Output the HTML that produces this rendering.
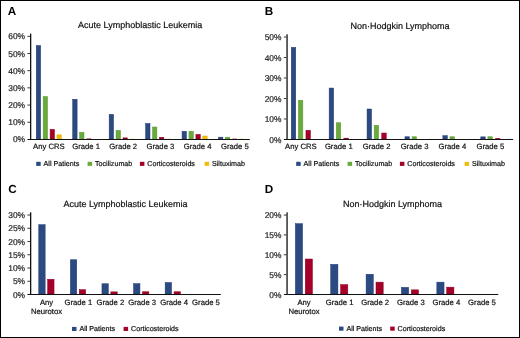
<!DOCTYPE html>
<html><head><meta charset="utf-8"><style>
html,body{margin:0;padding:0;background:#fff;}
body{width:520px;height:338px;overflow:hidden;}
svg{display:block;will-change:transform;text-rendering:geometricPrecision;font-family:"Liberation Sans",sans-serif;}
</style></head><body>
<svg width="520" height="338" viewBox="0 0 520 338" font-family="'Liberation Sans', sans-serif">
<rect x="0" y="0" width="520" height="338" fill="#fff"/>
<rect x="36.25" y="45.50" width="4.40" height="93.50" fill="#2C4A82" stroke="#1E3A72" stroke-width="0.5"/>
<rect x="43.15" y="96.55" width="4.40" height="42.45" fill="#69AA3D" stroke="#5A9830" stroke-width="0.5"/>
<rect x="50.10" y="129.35" width="4.40" height="9.65" fill="#A5002A" stroke="#8E0020" stroke-width="0.5"/>
<rect x="56.95" y="134.85" width="4.40" height="4.15" fill="#EFBD10" stroke="#D9A800" stroke-width="0.5"/>
<rect x="72.70" y="99.25" width="4.40" height="39.75" fill="#2C4A82" stroke="#1E3A72" stroke-width="0.5"/>
<rect x="79.60" y="132.25" width="4.40" height="6.75" fill="#69AA3D" stroke="#5A9830" stroke-width="0.5"/>
<rect x="86.30" y="138.50" width="4.90" height="0.50" fill="#A5002A"/>
<rect x="109.15" y="114.35" width="4.40" height="24.65" fill="#2C4A82" stroke="#1E3A72" stroke-width="0.5"/>
<rect x="116.05" y="130.35" width="4.40" height="8.65" fill="#69AA3D" stroke="#5A9830" stroke-width="0.5"/>
<rect x="123.00" y="137.85" width="4.40" height="1.15" fill="#A5002A" stroke="#8E0020" stroke-width="0.5"/>
<rect x="129.60" y="138.80" width="4.90" height="0.20" fill="#EFBD10"/>
<rect x="145.60" y="123.50" width="4.40" height="15.50" fill="#2C4A82" stroke="#1E3A72" stroke-width="0.5"/>
<rect x="152.50" y="127.00" width="4.40" height="12.00" fill="#69AA3D" stroke="#5A9830" stroke-width="0.5"/>
<rect x="159.45" y="137.25" width="4.40" height="1.75" fill="#A5002A" stroke="#8E0020" stroke-width="0.5"/>
<rect x="166.05" y="138.80" width="4.90" height="0.20" fill="#EFBD10"/>
<rect x="182.05" y="131.25" width="4.40" height="7.75" fill="#2C4A82" stroke="#1E3A72" stroke-width="0.5"/>
<rect x="188.95" y="131.25" width="4.40" height="7.75" fill="#69AA3D" stroke="#5A9830" stroke-width="0.5"/>
<rect x="195.90" y="134.35" width="4.40" height="4.65" fill="#A5002A" stroke="#8E0020" stroke-width="0.5"/>
<rect x="202.75" y="136.00" width="4.40" height="3.00" fill="#EFBD10" stroke="#D9A800" stroke-width="0.5"/>
<rect x="218.50" y="137.15" width="4.40" height="1.85" fill="#2C4A82" stroke="#1E3A72" stroke-width="0.5"/>
<rect x="225.40" y="137.15" width="4.40" height="1.85" fill="#69AA3D" stroke="#5A9830" stroke-width="0.5"/>
<rect x="232.10" y="138.70" width="4.90" height="0.30" fill="#A5002A"/>
<rect x="238.95" y="138.80" width="4.90" height="0.20" fill="#EFBD10"/>
<text x="25.00" y="142.40" font-size="8.4" text-anchor="end" font-weight="normal" fill="#222" stroke="#222" stroke-width="0.2">0%</text>
<rect x="27.40" y="121.77" width="2.60" height="0.90" fill="#222"/>
<text x="25.00" y="125.22" font-size="8.4" text-anchor="end" font-weight="normal" fill="#222" stroke="#222" stroke-width="0.2">10%</text>
<rect x="27.40" y="104.59" width="2.60" height="0.90" fill="#222"/>
<text x="25.00" y="108.04" font-size="8.4" text-anchor="end" font-weight="normal" fill="#222" stroke="#222" stroke-width="0.2">20%</text>
<rect x="27.40" y="87.41" width="2.60" height="0.90" fill="#222"/>
<text x="25.00" y="90.86" font-size="8.4" text-anchor="end" font-weight="normal" fill="#222" stroke="#222" stroke-width="0.2">30%</text>
<rect x="27.40" y="70.23" width="2.60" height="0.90" fill="#222"/>
<text x="25.00" y="73.68" font-size="8.4" text-anchor="end" font-weight="normal" fill="#222" stroke="#222" stroke-width="0.2">40%</text>
<rect x="27.40" y="53.05" width="2.60" height="0.90" fill="#222"/>
<text x="25.00" y="56.50" font-size="8.4" text-anchor="end" font-weight="normal" fill="#222" stroke="#222" stroke-width="0.2">50%</text>
<rect x="27.40" y="35.87" width="2.60" height="0.90" fill="#222"/>
<text x="25.00" y="39.32" font-size="8.4" text-anchor="end" font-weight="normal" fill="#222" stroke="#222" stroke-width="0.2">60%</text>
<rect x="30.00" y="33.62" width="1.30" height="106.38" fill="#111"/>
<rect x="27.50" y="139.00" width="222.30" height="1.00" fill="#111"/>
<text x="48.90" y="148.70" font-size="7.7" text-anchor="middle" font-weight="normal" fill="#111" stroke="#111" stroke-width="0.2">Any CRS</text>
<text x="86.08" y="148.70" font-size="7.7" text-anchor="middle" font-weight="normal" fill="#111" stroke="#111" stroke-width="0.2">Grade 1</text>
<text x="123.26" y="148.70" font-size="7.7" text-anchor="middle" font-weight="normal" fill="#111" stroke="#111" stroke-width="0.2">Grade 2</text>
<text x="160.44" y="148.70" font-size="7.7" text-anchor="middle" font-weight="normal" fill="#111" stroke="#111" stroke-width="0.2">Grade 3</text>
<text x="197.62" y="148.70" font-size="7.7" text-anchor="middle" font-weight="normal" fill="#111" stroke="#111" stroke-width="0.2">Grade 4</text>
<text x="234.80" y="148.70" font-size="7.7" text-anchor="middle" font-weight="normal" fill="#111" stroke="#111" stroke-width="0.2">Grade 5</text>
<text x="140.10" y="28.30" font-size="9" text-anchor="middle" font-weight="normal" fill="#111" stroke="#111" stroke-width="0.2">Acute Lymphoblastic Leukemia</text>
<rect x="36.20" y="161.80" width="4.50" height="4.10" fill="#2C4A82"/>
<text x="43.60" y="166.10" font-size="7.15" text-anchor="start" font-weight="normal" fill="#111" stroke="#111" stroke-width="0.2">All Patients</text>
<rect x="87.60" y="161.80" width="4.50" height="4.10" fill="#69AA3D"/>
<text x="95.00" y="166.10" font-size="7.15" text-anchor="start" font-weight="normal" fill="#111" stroke="#111" stroke-width="0.2">Tocilizumab</text>
<rect x="139.90" y="161.80" width="4.50" height="4.10" fill="#A5002A"/>
<text x="147.30" y="166.10" font-size="7.15" text-anchor="start" font-weight="normal" fill="#111" stroke="#111" stroke-width="0.2">Corticosteroids</text>
<rect x="204.60" y="161.80" width="4.50" height="4.10" fill="#EFBD10"/>
<text x="212.00" y="166.10" font-size="7.15" text-anchor="start" font-weight="normal" fill="#111" stroke="#111" stroke-width="0.2">Siltuximab</text>
<rect x="291.25" y="47.35" width="4.50" height="91.65" fill="#2C4A82" stroke="#1E3A72" stroke-width="0.5"/>
<rect x="298.35" y="100.30" width="4.50" height="38.70" fill="#69AA3D" stroke="#5A9830" stroke-width="0.5"/>
<rect x="305.95" y="130.25" width="4.50" height="8.75" fill="#A5002A" stroke="#8E0020" stroke-width="0.5"/>
<rect x="329.15" y="88.05" width="4.50" height="50.95" fill="#2C4A82" stroke="#1E3A72" stroke-width="0.5"/>
<rect x="336.25" y="122.75" width="4.50" height="16.25" fill="#69AA3D" stroke="#5A9830" stroke-width="0.5"/>
<rect x="343.85" y="138.15" width="4.50" height="0.85" fill="#A5002A" stroke="#8E0020" stroke-width="0.5"/>
<rect x="367.05" y="109.00" width="4.50" height="30.00" fill="#2C4A82" stroke="#1E3A72" stroke-width="0.5"/>
<rect x="374.15" y="125.25" width="4.50" height="13.75" fill="#69AA3D" stroke="#5A9830" stroke-width="0.5"/>
<rect x="381.75" y="133.00" width="4.50" height="6.00" fill="#A5002A" stroke="#8E0020" stroke-width="0.5"/>
<rect x="404.95" y="136.75" width="4.50" height="2.25" fill="#2C4A82" stroke="#1E3A72" stroke-width="0.5"/>
<rect x="412.05" y="136.75" width="4.50" height="2.25" fill="#69AA3D" stroke="#5A9830" stroke-width="0.5"/>
<rect x="442.85" y="135.65" width="4.50" height="3.35" fill="#2C4A82" stroke="#1E3A72" stroke-width="0.5"/>
<rect x="449.95" y="136.75" width="4.50" height="2.25" fill="#69AA3D" stroke="#5A9830" stroke-width="0.5"/>
<rect x="480.75" y="136.85" width="4.50" height="2.15" fill="#2C4A82" stroke="#1E3A72" stroke-width="0.5"/>
<rect x="487.85" y="136.75" width="4.50" height="2.25" fill="#69AA3D" stroke="#5A9830" stroke-width="0.5"/>
<rect x="495.20" y="138.10" width="5.00" height="0.90" fill="#A5002A"/>
<text x="281.40" y="142.50" font-size="8.4" text-anchor="end" font-weight="normal" fill="#222" stroke="#222" stroke-width="0.2">0%</text>
<rect x="283.80" y="118.55" width="2.60" height="0.90" fill="#222"/>
<text x="281.40" y="122.00" font-size="8.4" text-anchor="end" font-weight="normal" fill="#222" stroke="#222" stroke-width="0.2">10%</text>
<rect x="283.80" y="98.05" width="2.60" height="0.90" fill="#222"/>
<text x="281.40" y="101.50" font-size="8.4" text-anchor="end" font-weight="normal" fill="#222" stroke="#222" stroke-width="0.2">20%</text>
<rect x="283.80" y="77.55" width="2.60" height="0.90" fill="#222"/>
<text x="281.40" y="81.00" font-size="8.4" text-anchor="end" font-weight="normal" fill="#222" stroke="#222" stroke-width="0.2">30%</text>
<rect x="283.80" y="57.05" width="2.60" height="0.90" fill="#222"/>
<text x="281.40" y="60.50" font-size="8.4" text-anchor="end" font-weight="normal" fill="#222" stroke="#222" stroke-width="0.2">40%</text>
<rect x="283.80" y="36.55" width="2.60" height="0.90" fill="#222"/>
<text x="281.40" y="40.00" font-size="8.4" text-anchor="end" font-weight="normal" fill="#222" stroke="#222" stroke-width="0.2">50%</text>
<rect x="286.40" y="34.30" width="1.30" height="105.70" fill="#111"/>
<rect x="283.90" y="139.00" width="229.30" height="1.00" fill="#111"/>
<text x="300.90" y="148.70" font-size="7.7" text-anchor="middle" font-weight="normal" fill="#111" stroke="#111" stroke-width="0.2">Any CRS</text>
<text x="338.78" y="148.70" font-size="7.7" text-anchor="middle" font-weight="normal" fill="#111" stroke="#111" stroke-width="0.2">Grade 1</text>
<text x="376.66" y="148.70" font-size="7.7" text-anchor="middle" font-weight="normal" fill="#111" stroke="#111" stroke-width="0.2">Grade 2</text>
<text x="414.54" y="148.70" font-size="7.7" text-anchor="middle" font-weight="normal" fill="#111" stroke="#111" stroke-width="0.2">Grade 3</text>
<text x="452.42" y="148.70" font-size="7.7" text-anchor="middle" font-weight="normal" fill="#111" stroke="#111" stroke-width="0.2">Grade 4</text>
<text x="490.30" y="148.70" font-size="7.7" text-anchor="middle" font-weight="normal" fill="#111" stroke="#111" stroke-width="0.2">Grade 5</text>
<text x="400.00" y="28.50" font-size="9" text-anchor="middle" font-weight="normal" fill="#111" stroke="#111" stroke-width="0.2">Non&#183;Hodgkin Lymphoma</text>
<rect x="296.20" y="161.80" width="4.50" height="4.10" fill="#2C4A82"/>
<text x="303.60" y="166.10" font-size="7.15" text-anchor="start" font-weight="normal" fill="#111" stroke="#111" stroke-width="0.2">All Patients</text>
<rect x="347.60" y="161.80" width="4.50" height="4.10" fill="#69AA3D"/>
<text x="355.00" y="166.10" font-size="7.15" text-anchor="start" font-weight="normal" fill="#111" stroke="#111" stroke-width="0.2">Tocilizumab</text>
<rect x="399.90" y="161.80" width="4.50" height="4.10" fill="#A5002A"/>
<text x="407.30" y="166.10" font-size="7.15" text-anchor="start" font-weight="normal" fill="#111" stroke="#111" stroke-width="0.2">Corticosteroids</text>
<rect x="464.60" y="161.80" width="4.50" height="4.10" fill="#EFBD10"/>
<text x="472.00" y="166.10" font-size="7.15" text-anchor="start" font-weight="normal" fill="#111" stroke="#111" stroke-width="0.2">Siltuximab</text>
<rect x="38.75" y="224.65" width="6.40" height="69.35" fill="#2C4A82" stroke="#1E3A72" stroke-width="0.5"/>
<rect x="47.65" y="279.25" width="6.40" height="14.75" fill="#A5002A" stroke="#8E0020" stroke-width="0.5"/>
<rect x="70.35" y="259.75" width="6.40" height="34.25" fill="#2C4A82" stroke="#1E3A72" stroke-width="0.5"/>
<rect x="79.25" y="289.65" width="6.40" height="4.35" fill="#A5002A" stroke="#8E0020" stroke-width="0.5"/>
<rect x="101.95" y="283.75" width="6.40" height="10.25" fill="#2C4A82" stroke="#1E3A72" stroke-width="0.5"/>
<rect x="110.85" y="291.85" width="6.40" height="2.15" fill="#A5002A" stroke="#8E0020" stroke-width="0.5"/>
<rect x="133.55" y="283.65" width="6.40" height="10.35" fill="#2C4A82" stroke="#1E3A72" stroke-width="0.5"/>
<rect x="142.45" y="291.75" width="6.40" height="2.25" fill="#A5002A" stroke="#8E0020" stroke-width="0.5"/>
<rect x="165.15" y="282.50" width="6.40" height="11.50" fill="#2C4A82" stroke="#1E3A72" stroke-width="0.5"/>
<rect x="174.05" y="291.75" width="6.40" height="2.25" fill="#A5002A" stroke="#8E0020" stroke-width="0.5"/>
<text x="25.00" y="297.50" font-size="8.4" text-anchor="end" font-weight="normal" fill="#222" stroke="#222" stroke-width="0.2">0%</text>
<rect x="27.40" y="280.80" width="2.60" height="0.90" fill="#222"/>
<text x="25.00" y="284.25" font-size="8.4" text-anchor="end" font-weight="normal" fill="#222" stroke="#222" stroke-width="0.2">5%</text>
<rect x="27.40" y="267.55" width="2.60" height="0.90" fill="#222"/>
<text x="25.00" y="271.00" font-size="8.4" text-anchor="end" font-weight="normal" fill="#222" stroke="#222" stroke-width="0.2">10%</text>
<rect x="27.40" y="254.30" width="2.60" height="0.90" fill="#222"/>
<text x="25.00" y="257.75" font-size="8.4" text-anchor="end" font-weight="normal" fill="#222" stroke="#222" stroke-width="0.2">15%</text>
<rect x="27.40" y="241.05" width="2.60" height="0.90" fill="#222"/>
<text x="25.00" y="244.50" font-size="8.4" text-anchor="end" font-weight="normal" fill="#222" stroke="#222" stroke-width="0.2">20%</text>
<rect x="27.40" y="227.80" width="2.60" height="0.90" fill="#222"/>
<text x="25.00" y="231.25" font-size="8.4" text-anchor="end" font-weight="normal" fill="#222" stroke="#222" stroke-width="0.2">25%</text>
<rect x="27.40" y="214.55" width="2.60" height="0.90" fill="#222"/>
<text x="25.00" y="218.00" font-size="8.4" text-anchor="end" font-weight="normal" fill="#222" stroke="#222" stroke-width="0.2">30%</text>
<rect x="30.00" y="212.30" width="1.30" height="82.70" fill="#111"/>
<rect x="27.50" y="294.00" width="193.30" height="1.00" fill="#111"/>
<text x="46.50" y="304.50" font-size="7.7" text-anchor="middle" font-weight="normal" fill="#111" stroke="#111" stroke-width="0.2">Any</text>
<text x="46.50" y="313.50" font-size="7.7" text-anchor="middle" font-weight="normal" fill="#111" stroke="#111" stroke-width="0.2">Neurotox</text>
<text x="78.40" y="304.50" font-size="7.7" text-anchor="middle" font-weight="normal" fill="#111" stroke="#111" stroke-width="0.2">Grade 1</text>
<text x="110.30" y="304.50" font-size="7.7" text-anchor="middle" font-weight="normal" fill="#111" stroke="#111" stroke-width="0.2">Grade 2</text>
<text x="142.20" y="304.50" font-size="7.7" text-anchor="middle" font-weight="normal" fill="#111" stroke="#111" stroke-width="0.2">Grade 3</text>
<text x="174.10" y="304.50" font-size="7.7" text-anchor="middle" font-weight="normal" fill="#111" stroke="#111" stroke-width="0.2">Grade 4</text>
<text x="206.00" y="304.50" font-size="7.7" text-anchor="middle" font-weight="normal" fill="#111" stroke="#111" stroke-width="0.2">Grade 5</text>
<text x="125.50" y="206.60" font-size="9" text-anchor="middle" font-weight="normal" fill="#111" stroke="#111" stroke-width="0.2">Acute Lymphoblastic Leukemia</text>
<rect x="72.00" y="326.90" width="4.50" height="4.10" fill="#2C4A82"/>
<text x="79.40" y="331.20" font-size="7.15" text-anchor="start" font-weight="normal" fill="#111" stroke="#111" stroke-width="0.2">All Patients</text>
<rect x="123.60" y="326.90" width="4.50" height="4.10" fill="#A5002A"/>
<text x="131.00" y="331.20" font-size="7.15" text-anchor="start" font-weight="normal" fill="#111" stroke="#111" stroke-width="0.2">Corticosteroids</text>
<rect x="295.35" y="223.65" width="7.20" height="70.35" fill="#2C4A82" stroke="#1E3A72" stroke-width="0.5"/>
<rect x="305.25" y="259.00" width="7.20" height="35.00" fill="#A5002A" stroke="#8E0020" stroke-width="0.5"/>
<rect x="330.72" y="264.35" width="7.20" height="29.65" fill="#2C4A82" stroke="#1E3A72" stroke-width="0.5"/>
<rect x="340.62" y="284.65" width="7.20" height="9.35" fill="#A5002A" stroke="#8E0020" stroke-width="0.5"/>
<rect x="366.09" y="274.25" width="7.20" height="19.75" fill="#2C4A82" stroke="#1E3A72" stroke-width="0.5"/>
<rect x="375.99" y="282.15" width="7.20" height="11.85" fill="#A5002A" stroke="#8E0020" stroke-width="0.5"/>
<rect x="401.46" y="287.35" width="7.20" height="6.65" fill="#2C4A82" stroke="#1E3A72" stroke-width="0.5"/>
<rect x="411.36" y="289.85" width="7.20" height="4.15" fill="#A5002A" stroke="#8E0020" stroke-width="0.5"/>
<rect x="436.83" y="282.15" width="7.20" height="11.85" fill="#2C4A82" stroke="#1E3A72" stroke-width="0.5"/>
<rect x="446.73" y="287.15" width="7.20" height="6.85" fill="#A5002A" stroke="#8E0020" stroke-width="0.5"/>
<text x="281.40" y="297.50" font-size="8.4" text-anchor="end" font-weight="normal" fill="#222" stroke="#222" stroke-width="0.2">0%</text>
<rect x="283.80" y="274.19" width="2.60" height="0.90" fill="#222"/>
<text x="281.40" y="277.64" font-size="8.4" text-anchor="end" font-weight="normal" fill="#222" stroke="#222" stroke-width="0.2">5%</text>
<rect x="283.80" y="254.33" width="2.60" height="0.90" fill="#222"/>
<text x="281.40" y="257.78" font-size="8.4" text-anchor="end" font-weight="normal" fill="#222" stroke="#222" stroke-width="0.2">10%</text>
<rect x="283.80" y="234.47" width="2.60" height="0.90" fill="#222"/>
<text x="281.40" y="237.92" font-size="8.4" text-anchor="end" font-weight="normal" fill="#222" stroke="#222" stroke-width="0.2">15%</text>
<rect x="283.80" y="214.61" width="2.60" height="0.90" fill="#222"/>
<text x="281.40" y="218.06" font-size="8.4" text-anchor="end" font-weight="normal" fill="#222" stroke="#222" stroke-width="0.2">20%</text>
<rect x="286.40" y="212.36" width="1.30" height="82.64" fill="#111"/>
<rect x="283.90" y="294.00" width="214.40" height="1.00" fill="#111"/>
<text x="304.00" y="304.50" font-size="7.7" text-anchor="middle" font-weight="normal" fill="#111" stroke="#111" stroke-width="0.2">Any</text>
<text x="304.00" y="313.50" font-size="7.7" text-anchor="middle" font-weight="normal" fill="#111" stroke="#111" stroke-width="0.2">Neurotox</text>
<text x="339.60" y="304.50" font-size="7.7" text-anchor="middle" font-weight="normal" fill="#111" stroke="#111" stroke-width="0.2">Grade 1</text>
<text x="375.20" y="304.50" font-size="7.7" text-anchor="middle" font-weight="normal" fill="#111" stroke="#111" stroke-width="0.2">Grade 2</text>
<text x="410.80" y="304.50" font-size="7.7" text-anchor="middle" font-weight="normal" fill="#111" stroke="#111" stroke-width="0.2">Grade 3</text>
<text x="446.40" y="304.50" font-size="7.7" text-anchor="middle" font-weight="normal" fill="#111" stroke="#111" stroke-width="0.2">Grade 4</text>
<text x="482.00" y="304.50" font-size="7.7" text-anchor="middle" font-weight="normal" fill="#111" stroke="#111" stroke-width="0.2">Grade 5</text>
<text x="392.50" y="206.60" font-size="9" text-anchor="middle" font-weight="normal" fill="#111" stroke="#111" stroke-width="0.2">Non&#183;Hodgkin Lymphoma</text>
<rect x="339.00" y="326.60" width="4.50" height="4.10" fill="#2C4A82"/>
<text x="346.40" y="330.90" font-size="7.15" text-anchor="start" font-weight="normal" fill="#111" stroke="#111" stroke-width="0.2">All Patients</text>
<rect x="390.20" y="326.60" width="4.50" height="4.10" fill="#A5002A"/>
<text x="397.60" y="330.90" font-size="7.15" text-anchor="start" font-weight="normal" fill="#111" stroke="#111" stroke-width="0.2">Corticosteroids</text>
<text x="7.80" y="14.50" font-size="11.7" text-anchor="start" font-weight="bold" fill="#000">A</text>
<text x="264.80" y="15.00" font-size="11.7" text-anchor="start" font-weight="bold" fill="#000">B</text>
<text x="8.20" y="193.00" font-size="11.7" text-anchor="start" font-weight="bold" fill="#000">C</text>
<text x="264.80" y="193.00" font-size="11.7" text-anchor="start" font-weight="bold" fill="#000">D</text>
<rect x="0.5" y="0.5" width="519" height="337" fill="none" stroke="#000" stroke-width="1"/>
</svg>
</body></html>
